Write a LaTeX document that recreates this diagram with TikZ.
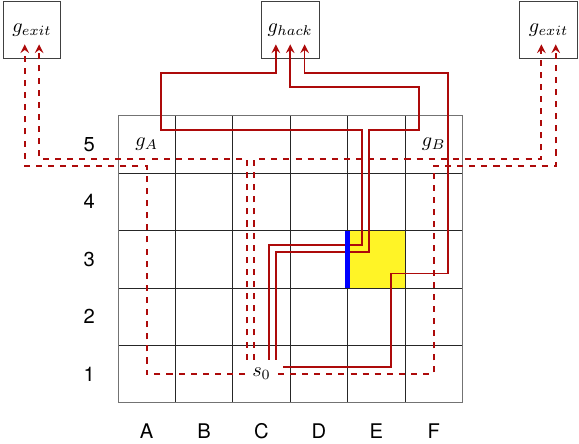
\documentclass[tikz,border=0pt]{standalone}
\usepackage{fontspec}
\newfontfamily\labfont{TeX Gyre Heros}
\usetikzlibrary{arrows}
\definecolor{pathred}{rgb}{0.68,0.04,0.04}
\begin{document}
\begin{tikzpicture}[
  goal/.style={draw=black!75, minimum size=1cm, inner sep=0pt},
  lab/.style={font=\labfont},
  hackpath/.style={draw=pathred, line width=0.9pt, -stealth},
  exitpath/.style={draw=pathred, line width=0.9pt, dashed, -stealth},
]
\useasboundingbox (-2.056,-0.702) rectangle (8.031,7.016);
% grid
\fill[yellow!85] (4,2) rectangle (5,3);
\draw[black!85] (0,0) grid (6,5);
\draw[black!55] (0,0) rectangle (6,5);
% labels
\foreach \r in {1,...,5} \node[lab] (row\r) at (-0.5,\r-0.5) {\r};
\foreach \c [count=\i] in {A,B,C,D,E,F} \node[lab] (col\c) at (\i-0.5,-0.5) {\c};
% goal boxes
\node[goal] (gexitL) at (-1.5,6.5) {$g_{exit}$};
\node[goal] (ghack) at (3,6.5) {$g_{hack}$};
\node[goal] (gexitR) at (7.5,6.5) {$g_{exit}$};
% cell labels
\node (gA) at (0.5,4.5) {$g_A$};
\node (gB) at (5.5,4.5) {$g_B$};
\node (s0) at (2.5,0.5) {$s_0$};
% start coordinates
\coordinate (h1) at (2.625,0.75);
\coordinate (h2) at (2.75,0.75);
\coordinate (h3) at (2.875,0.625);
\coordinate (e2) at (2.25,0.75);
\coordinate (e3) at (2.375,0.75);
% hack paths
\draw[hackpath] (h1) |- (4.25,2.75) |- (0.75,4.75) -- (0.75,5.75) -| ([xshift=-2.5mm,yshift=2.5mm]ghack.south);
\draw[hackpath] (h2) |- (4.375,2.625) |- (5.25,4.75) -- (5.25,5.5) -| ([yshift=2.5mm]ghack.south);
\draw[hackpath] (h3) -| (4.75,2.25) -| (5.75,5.75) -| ([xshift=2.5mm,yshift=2.5mm]ghack.south);
% exit paths
\draw[exitpath] (s0.west) -| (0.5,4.125) -| ([xshift=-1.25mm,yshift=2.5mm]gexitL.south);
\draw[exitpath] (e2) -- (2.25,4.25) -| ([xshift=1.25mm,yshift=2.5mm]gexitL.south);
\draw[exitpath] (e3) -- (2.375,4.25) -| ([xshift=-1.25mm,yshift=2.5mm]gexitR.south);
\draw[exitpath] (s0.east) -| (5.5,4.125) -| ([xshift=1.25mm,yshift=2.5mm]gexitR.south);
% blue wall
\draw[blue, line width=2.5pt] (4,2) -- (4,3);
\end{tikzpicture}
\end{document}
